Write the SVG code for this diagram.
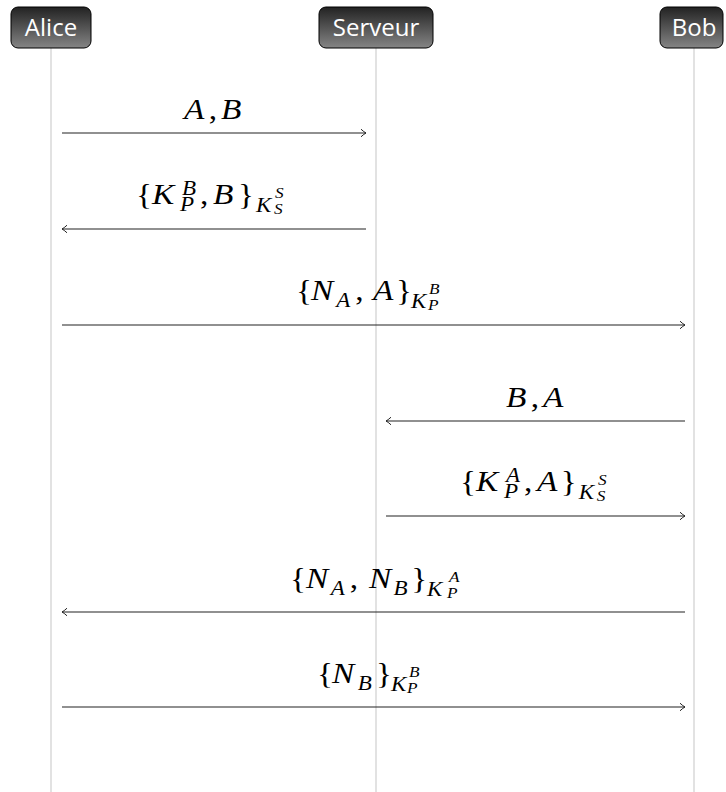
<svg xmlns="http://www.w3.org/2000/svg" width="726" height="792" viewBox="0 0 726 792">
<style>
.life{stroke:#cfcfcf;stroke-width:1.2;fill:none}
.box{stroke:#000;stroke-width:1;fill:url(#hg)}
.msg{stroke:#222;stroke-width:1.1;fill:none;marker-end:url(#ah)}
</style>
<defs>
<linearGradient id="hg" x1="0" y1="0" x2="0" y2="1">
<stop offset="0" stop-color="#222"/>
<stop offset="1" stop-color="#858585"/>
</linearGradient>
<marker id="ah" markerUnits="userSpaceOnUse" markerWidth="12" markerHeight="12" viewBox="-8 -6 10 12" refX="0" refY="0" orient="auto">
<path d="M-5,-3.8 Q-2,-1 0,0 Q-2,1 -5,3.8" fill="none" stroke="#222" stroke-width="1"/>
</marker>
</defs>
<g id="lifelines">
<line class="life" x1="51" y1="48" x2="51" y2="792"/>
<line class="life" x1="376" y1="48" x2="376" y2="792"/>
<line class="life" x1="694" y1="48" x2="694" y2="792"/>
</g>
<g font-family="'Open Sans', sans-serif" font-size="24" fill="#fff" text-anchor="middle">
<g id="alice">
<rect class="box" x="11" y="7" width="80" height="41" rx="7"/>
<text x="51" y="36">Alice</text>
</g>
<g id="serveur">
<rect class="box" x="319" y="7" width="114" height="41" rx="7"/>
<text x="376" y="36">Serveur</text>
</g>
<g id="bob">
<rect class="box" x="660" y="7" width="63" height="41" rx="7"/>
<text x="694" y="36">Bob</text>
</g>
</g>
<g id="connectors">
<path class="msg" d="M62,133 H366"/>
<path class="msg" d="M366,229 H62"/>
<path class="msg" d="M62,325 H685"/>
<path class="msg" d="M685,421 H386"/>
<path class="msg" d="M386,516 H685"/>
<path class="msg" d="M685,612 H62"/>
<path class="msg" d="M62,707 H685"/>
</g>
<g id="labels" font-family="'Liberation Serif', 'Times New Roman', serif" font-style="italic" font-size="29" fill="#000">
<g id="l1" transform="translate(184,119) scale(1.15,1)">
<text x="0" y="0">A</text><text font-style="normal" x="21.5" y="0">,</text><text x="32.2" y="0">B</text>
</g>
<g id="l2" transform="translate(136,204) scale(1.15,1)">
<text font-style="normal" x="0" y="0">{</text>
<text x="13.9" y="0">K</text>
<text font-size="20" x="40" y="-9">B</text>
<text font-size="20" x="38.3" y="7">P</text>
<text font-style="normal" x="55.7" y="0">,</text>
<text x="67" y="0">B</text>
<text font-style="normal" x="88.7" y="0">}</text>
<text font-size="20" x="104.3" y="8">K</text>
<text font-size="15" x="120.9" y="-6">S</text>
<text font-size="15" x="120" y="10">S</text>
</g>
<g id="l3" transform="translate(296,300) scale(1.15,1)">
<text font-style="normal" x="0" y="0">{</text>
<text x="13" y="0">N</text>
<text font-size="20" x="35" y="7">A</text>
<text font-style="normal" x="51.5" y="0">,</text>
<text x="67" y="0">A</text>
<text font-style="normal" x="87" y="0">}</text>
<text font-size="20" x="100" y="8">K</text>
<text font-size="15" x="115.7" y="-6">B</text>
<text font-size="15" x="114.8" y="10">P</text>
</g>
<g id="l4" transform="translate(506,407) scale(1.15,1)">
<text x="0" y="0">B</text><text font-style="normal" x="21.5" y="0">,</text><text x="32.2" y="0">A</text>
</g>
<g id="l5" transform="translate(460,491) scale(1.15,1)">
<text font-style="normal" x="0" y="0">{</text>
<text x="13.9" y="0">K</text>
<text font-size="20" x="40" y="-9">A</text>
<text font-size="20" x="38.3" y="7">P</text>
<text font-style="normal" x="55.7" y="0">,</text>
<text x="67" y="0">A</text>
<text font-style="normal" x="87.7" y="0">}</text>
<text font-size="20" x="103.3" y="8">K</text>
<text font-size="15" x="119.9" y="-6">S</text>
<text font-size="15" x="119" y="10">S</text>
</g>
<g id="l6" transform="translate(290,588) scale(1.15,1)">
<text font-style="normal" x="0" y="0">{</text>
<text x="13.9" y="0">N</text>
<text font-size="20" x="35.5" y="7">A</text>
<text font-style="normal" x="52" y="0">,</text>
<text x="68.7" y="0">N</text>
<text font-size="20" x="90" y="7">B</text>
<text font-style="normal" x="105.5" y="0">}</text>
<text font-size="20" x="119.1" y="8">K</text>
<text font-size="15" x="138.3" y="-6">A</text>
<text font-size="15" x="136.5" y="10">P</text>
</g>
<g id="l7" transform="translate(317,683) scale(1.15,1)">
<text font-style="normal" x="0" y="0">{</text>
<text x="13" y="0">N</text>
<text font-size="20" x="35.5" y="7">B</text>
<text font-style="normal" x="51.3" y="0">}</text>
<text font-size="20" x="64.3" y="8">K</text>
<text font-size="15" x="80" y="-6">B</text>
<text font-size="15" x="78.3" y="10">P</text>
</g>
</g>
</svg>
